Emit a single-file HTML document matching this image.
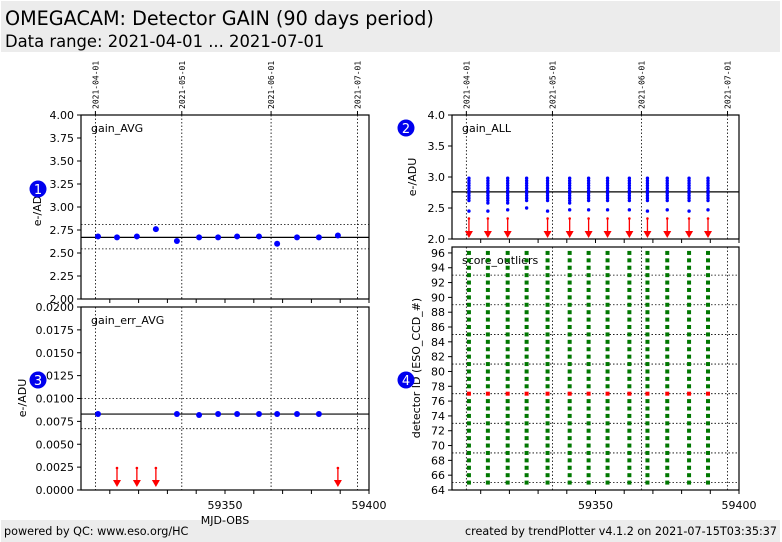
<!DOCTYPE html>
<html><head><meta charset="utf-8"><style>
body{margin:0;width:782px;height:542px;background:#fff;overflow:hidden;font-family:"DejaVu Sans","Liberation Sans",sans-serif;position:relative}
#hdr{position:absolute;left:1px;top:1px;width:779px;height:51px;background:#ececec}
#t1{position:absolute;left:4px;top:6px;font-size:19.2px;color:#000}
#t2{position:absolute;left:4px;top:31px;font-size:16.4px;color:#000}
#ftr{position:absolute;left:1px;top:520px;width:779px;height:22px;background:#ececec;font-size:11.2px}
#fl{position:absolute;left:3px;top:5px}
#fr{position:absolute;right:3px;top:5px}
svg{position:absolute;left:0;top:0}
</style></head><body>
<div id="hdr">
<div id="t1">OMEGACAM: Detector GAIN (90 days period)</div>
<div id="t2">Data range: 2021-04-01 ... 2021-07-01</div>
</div>
<div id="ftr">
<span id="fl">powered by QC: www.eso.org/HC</span>
<span id="fr">created by trendPlotter v4.1.2 on 2021-07-15T03:35:37</span>
</div>
<svg id="svg" width="782" height="542"></svg>
<script>
const mjd=[59305.9,59312.5,59319.4,59326,59333.3,59341,59347.6,59354.2,59361.8,59368.1,59375,59382.6,59389.2];
const gainAvg=[2.68,2.67,2.68,2.76,2.63,2.67,2.67,2.68,2.68,2.60,2.67,2.67,2.69];
const gainAvgStats=[2.67,2.81,2.545];
const gainAllMin=[2.62,2.58,2.58,2.62,2.62,2.58,2.62,2.62,2.62,2.62,2.62,2.62,2.62];
const gainAllMax=[2.98,2.98,2.98,2.98,2.98,2.98,2.98,2.98,2.98,2.98,2.98,2.98,2.98];
const gainAllLow=[2.45,2.45,2.47,2.5,2.45,2.47,2.47,2.47,2.47,2.45,2.47,2.45,2.47];
const gainAllArrow=[1,1,1,0,1,1,1,1,1,1,1,1,1];
const gainAllMean=[2.76];
const gainErr=[0.0083,null,null,null,0.0083,0.0082,0.0083,0.0083,0.0083,0.0083,0.0083,0.0083,null];
const gainErrStats=[0.0083,0.0100,0.0067];
const detIds=[65,66,67,68,69,70,71,72,73,74,75,76,77,78,79,80,81,82,83,84,85,86,87,88,89,90,91,92,93,94,95,96];
const outlierIds=[77];
const detHLines=[65,69,73,77,81,85,89,93];
const dateTicks=[59305,59335,59366,59396];
const dateLabels=["2021-04-01","2021-05-01","2021-06-01","2021-07-01"];
const xLabels=[59350,59400];
const y1Ticks=[2.00,2.25,2.50,2.75,3.00,3.25,3.50,3.75,4.00];
const y2Ticks=[2.0,2.5,3.0,3.5,4.0];
const y3Ticks=[0,0.0025,0.005,0.0075,0.01,0.0125,0.015,0.0175,0.02];
const y4Ticks=[64,66,68,70,72,74,76,78,80,82,84,86,88,90,92,94,96];

const S=document.getElementById('svg');const NS='http://www.w3.org/2000/svg';
function el(t,a,n){const e=document.createElementNS(NS,t);for(const k in a)e.setAttribute(k,a[k]);


S.appendChild(e);return e;}
function txt(x,y,s,n,o){const e=el('text',Object.assign({x:x,y:y,'font-size':11,fill:'#000','font-family':'DejaVu Sans, Liberation Sans, sans-serif'},o||{}),n);e.textContent=s;return e;}
function panel(x0,x1,y0,y1,vmin,vmax){return{x0,x1,y0,y1,X:d=>x0+(d-59300)/100*(x1-x0),Y:v=>y1-(v-vmin)/(vmax-vmin)*(y1-y0)};}
const P1=panel(81,369,115,299,2,4);
const P2=panel(452,739,115,239,2,4);
const P3=panel(81,369,307,490,0,0.02);
const P4=panel(452,739,247,490,64,96.8);
function frame(P,n,label,ticks,fmt,dates,xlab){
 el('rect',{x:P.x0,y:P.y0,width:P.x1-P.x0,height:P.y1-P.y0,fill:'none',stroke:'#000','stroke-width':1.2},n+'-frame');
 dateTicks.forEach((d,i)=>{const x=P.X(d);el('line',{x1:x,x2:x,y1:P.y0,y2:P.y1,stroke:'#000','stroke-width':0.8,'stroke-dasharray':'1.5,2'},n+'-date-grid');
  if(dates){el('line',{x1:x,x2:x,y1:P.y0,y2:P.y0-4,stroke:'#000'},n+'-date-tick');
   txt(0,0,dateLabels[i],n+'-date-label',{'font-size':8,'font-family':'DejaVu Sans Mono, Liberation Mono, monospace',transform:'translate('+(x+3)+','+(P.y0-6)+') rotate(-90)'});}});
 for(let d=59310;d<=59400;d+=10){const x=P.X(d);el('line',{x1:x,x2:x,y1:P.y1,y2:P.y1+4,stroke:'#000'},n+'-x-tick');}
 if(xlab)xLabels.forEach(v=>txt(P.X(v),P.y1+19,String(v),n+'-x-label',{'text-anchor':'middle'}));
 ticks.forEach(v=>{const y=P.Y(v);el('line',{x1:P.x0,x2:P.x0-4,y1:y,y2:y,stroke:'#000'},n+'-y-tick');txt(P.x0-7,y+4,fmt(v),n+'-y-label',{'text-anchor':'end'});});
 txt(P.x0+10,P.y0+17,label,n+'-title');
}
function hline(P,v,dash,n){el('line',{x1:P.x0,x2:P.x1,y1:P.Y(v),y2:P.Y(v),stroke:'#000','stroke-width':dash?0.8:1.2,'stroke-dasharray':dash?'1.5,2':'none'},n);}
function arrow(x,yTop,yBot,n){el('line',{x1:x,x2:x,y1:yTop,y2:yBot-6,stroke:'#f00','stroke-width':1.3},n);el('polygon',{points:(x-4)+','+(yBot-7)+' '+(x+4)+','+(yBot-7)+' '+x+','+yBot,fill:'#f00'},n+'-head');el('circle',{cx:x,cy:yTop,r:1.3,fill:'#f00'},n+'-cap');}
function ytitle(x,y,s,n){txt(0,0,s,n,{transform:'translate('+x+','+y+') rotate(-90)','text-anchor':'middle'});}
function badge(x,y,s,n){el('circle',{cx:x,cy:y,r:8.5,fill:'#0000ee'},n);txt(x,y+5,s,n+'-label',{fill:'#fff','text-anchor':'middle','font-size':13});}

frame(P1,'gain-avg','gain_AVG',y1Ticks,v=>v.toFixed(2),true,false);
gainAvgStats.forEach((v,i)=>hline(P1,v,i>0,'gain-avg-stat-line'));
mjd.forEach((d,i)=>el('circle',{cx:P1.X(d),cy:P1.Y(gainAvg[i]),r:3,fill:'#0000ff'},'gain-avg-point'));
ytitle(41,207,'e-/ADU','gain-avg-y-axis-title');
badge(38,189,'1','badge-1');

frame(P2,'gain-all','gain_ALL',y2Ticks,v=>v.toFixed(1),true,false);
hline(P2,gainAllMean[0],false,'gain-all-mean-line');
mjd.forEach((d,i)=>{const x=P2.X(d);
 for(let v=gainAllMin[i];v<=gainAllMax[i]+1e-6;v+=0.04)el('circle',{cx:x,cy:P2.Y(v),r:1.7,fill:'#0000ff'},'gain-all-point');
 el('circle',{cx:x,cy:P2.Y(gainAllLow[i]),r:1.7,fill:'#0000ff'},'gain-all-low-point');
 if(gainAllArrow[i])arrow(x,P2.Y(2.33),P2.Y(2.0)-1,'gain-all-outlier-arrow');});
ytitle(416,177,'e-/ADU','gain-all-y-axis-title');
badge(406,128,'2','badge-2');

frame(P3,'gain-err','gain_err_AVG',y3Ticks,v=>v.toFixed(4),false,true);
gainErrStats.forEach((v,i)=>hline(P3,v,i>0,'gain-err-stat-line'));
mjd.forEach((d,i)=>{const x=P3.X(d);if(gainErr[i]!==null)el('circle',{cx:x,cy:P3.Y(gainErr[i]),r:3,fill:'#0000ff'},'gain-err-point');else arrow(x,P3.Y(0.0024),P3.Y(0)-3,'gain-err-outlier-arrow');});
ytitle(26,398,'e-/ADU','gain-err-y-axis-title');
txt(225,524,'MJD-OBS','x-axis-title',{'text-anchor':'middle'});
badge(38,380,'3','badge-3');

frame(P4,'score-outliers','score_outliers',y4Ticks,v=>String(v),false,true);
detHLines.forEach(v=>hline(P4,v,true,'score-grid-line'));
mjd.forEach(d=>{const x=P4.X(d);detIds.forEach(v=>{const o=outlierIds.includes(v);el('rect',{x:x-2,y:P4.Y(v)-2,width:4,height:4,fill:o?'#ff0000':'#007700'},o?'outlier-cell':'score-cell');});});
ytitle(420,368,'detector ID (ESO_CCD_#)','score-y-axis-title');
badge(406,380,'4','badge-4');
</script>
</body></html>
